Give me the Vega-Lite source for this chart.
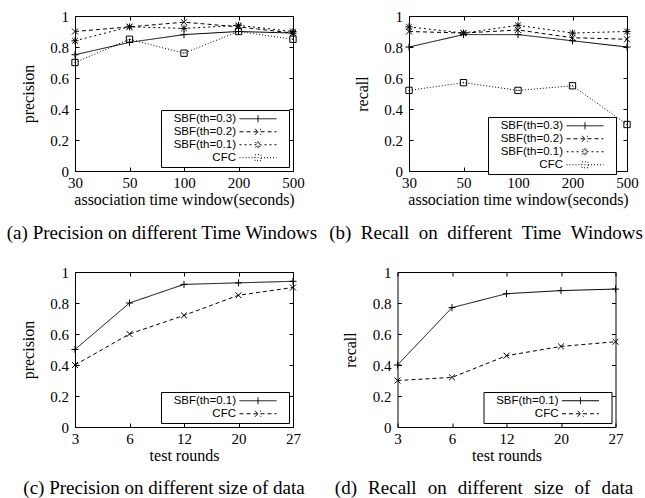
{
  "$schema": "https://vega.github.io/schema/vega-lite/v6.json",
  "padding": {"left": 3, "top": 8, "right": 0, "bottom": 0},
  "background": "white",
  "config": {
    "font": "Liberation Serif",
    "view": {"stroke": "black", "strokeWidth": 1},
    "axis": {"grid": false, "domain": false, "tickSize": -4, "tickColor": "black", "tickWidth": 1, "labelFont": "Liberation Serif", "labelFontSize": 15, "labelColor": "black", "titleFont": "Liberation Serif", "titleFontSize": 16, "titleFontWeight": "normal", "titleColor": "black", "labelAngle": 0},
    "axisY": {"labelPadding": 10.5, "titleX": -47, "titleBaseline": "middle"},
    "axisX": {"labelPadding": 8, "titlePadding": 1},
    "title": {"font": "Liberation Serif", "fontSize": 19, "fontWeight": "normal", "color": "black"},
    "legend": {"orient": "bottom-right", "offset": 4, "padding": 3, "strokeColor": "black", "fillColor": "white", "labelFont": "Liberation Sans", "labelFontSize": 11.5, "labelColor": "black", "rowPadding": 0, "symbolSize": 100, "symbolStrokeColor": "black", "symbolStrokeWidth": 1, "cornerRadius": 0}
  },
  "datasets": {
    "a": [
      {"x": 30, "series": "SBF(th=0.3)", "v": 0.75}, {"x": 50, "series": "SBF(th=0.3)", "v": 0.83}, {"x": 100, "series": "SBF(th=0.3)", "v": 0.88}, {"x": 200, "series": "SBF(th=0.3)", "v": 0.90}, {"x": 500, "series": "SBF(th=0.3)", "v": 0.89},
      {"x": 30, "series": "SBF(th=0.2)", "v": 0.90}, {"x": 50, "series": "SBF(th=0.2)", "v": 0.93}, {"x": 100, "series": "SBF(th=0.2)", "v": 0.96}, {"x": 200, "series": "SBF(th=0.2)", "v": 0.93}, {"x": 500, "series": "SBF(th=0.2)", "v": 0.89},
      {"x": 30, "series": "SBF(th=0.1)", "v": 0.84}, {"x": 50, "series": "SBF(th=0.1)", "v": 0.93}, {"x": 100, "series": "SBF(th=0.1)", "v": 0.92}, {"x": 200, "series": "SBF(th=0.1)", "v": 0.94}, {"x": 500, "series": "SBF(th=0.1)", "v": 0.90},
      {"x": 30, "series": "CFC", "v": 0.70}, {"x": 50, "series": "CFC", "v": 0.85}, {"x": 100, "series": "CFC", "v": 0.76}, {"x": 200, "series": "CFC", "v": 0.90}, {"x": 500, "series": "CFC", "v": 0.85}
    ],
    "b": [
      {"x": 30, "series": "SBF(th=0.3)", "v": 0.80}, {"x": 50, "series": "SBF(th=0.3)", "v": 0.88}, {"x": 100, "series": "SBF(th=0.3)", "v": 0.88}, {"x": 200, "series": "SBF(th=0.3)", "v": 0.84}, {"x": 500, "series": "SBF(th=0.3)", "v": 0.80},
      {"x": 30, "series": "SBF(th=0.2)", "v": 0.90}, {"x": 50, "series": "SBF(th=0.2)", "v": 0.89}, {"x": 100, "series": "SBF(th=0.2)", "v": 0.91}, {"x": 200, "series": "SBF(th=0.2)", "v": 0.86}, {"x": 500, "series": "SBF(th=0.2)", "v": 0.85},
      {"x": 30, "series": "SBF(th=0.1)", "v": 0.93}, {"x": 50, "series": "SBF(th=0.1)", "v": 0.89}, {"x": 100, "series": "SBF(th=0.1)", "v": 0.94}, {"x": 200, "series": "SBF(th=0.1)", "v": 0.89}, {"x": 500, "series": "SBF(th=0.1)", "v": 0.90},
      {"x": 30, "series": "CFC", "v": 0.52}, {"x": 50, "series": "CFC", "v": 0.57}, {"x": 100, "series": "CFC", "v": 0.52}, {"x": 200, "series": "CFC", "v": 0.55}, {"x": 500, "series": "CFC", "v": 0.30}
    ],
    "c": [
      {"x": 3, "series": "SBF(th=0.1)", "v": 0.50}, {"x": 6, "series": "SBF(th=0.1)", "v": 0.80}, {"x": 12, "series": "SBF(th=0.1)", "v": 0.92}, {"x": 20, "series": "SBF(th=0.1)", "v": 0.93}, {"x": 27, "series": "SBF(th=0.1)", "v": 0.94},
      {"x": 3, "series": "CFC", "v": 0.40}, {"x": 6, "series": "CFC", "v": 0.60}, {"x": 12, "series": "CFC", "v": 0.72}, {"x": 20, "series": "CFC", "v": 0.85}, {"x": 27, "series": "CFC", "v": 0.90}
    ],
    "d": [
      {"x": 3, "series": "SBF(th=0.1)", "v": 0.40}, {"x": 6, "series": "SBF(th=0.1)", "v": 0.77}, {"x": 12, "series": "SBF(th=0.1)", "v": 0.86}, {"x": 20, "series": "SBF(th=0.1)", "v": 0.88}, {"x": 27, "series": "SBF(th=0.1)", "v": 0.89},
      {"x": 3, "series": "CFC", "v": 0.30}, {"x": 6, "series": "CFC", "v": 0.32}, {"x": 12, "series": "CFC", "v": 0.46}, {"x": 20, "series": "CFC", "v": 0.52}, {"x": 27, "series": "CFC", "v": 0.55}
    ]
  },
  "spacing": 20,
  "resolve": {"scale": {"strokeDash": "independent"}, "legend": {"strokeDash": "independent"}},
  "vconcat": [
    {
      "spacing": 116,
      "bounds": "flush",
      "resolve": {"scale": {"strokeDash": "independent"}, "legend": {"strokeDash": "independent"}},
      "hconcat": [
        {
          "width": 218, "height": 155,
          "data": {"name": "a"},
          "title": {"text": "(a)  Precision on different Time Windows", "orient": "bottom", "anchor": "middle", "dx": -22, "offset": 17},
          "resolve": {"axis": {"x": "independent", "y": "independent"}},
          "layer": [
            {
              "mark": {"type": "line", "color": "black", "strokeWidth": 1},
              "encoding": {
                "x": {"field": "x", "type": "ordinal", "sort": [30, 50, 100, 200, 500], "scale": {"type": "point", "padding": 0}, "title": "association time window(seconds)"},
                "y": {"field": "v", "type": "quantitative", "scale": {"domain": [0, 1]}, "title": "precision", "axis": {"values": [0, 0.2, 0.4, 0.6, 0.8, 1], "format": "~g"}},
                "strokeDash": {"field": "series", "type": "nominal", "scale": {"domain": ["SBF(th=0.3)", "SBF(th=0.2)", "SBF(th=0.1)", "CFC"], "range": [[1, 0], [4, 3], [2, 3], [1, 2]]},
                  "legend": {"title": null, "orient": "bottom-right", "encode": {
                    "symbols": {"update": {"x": {"value": 94}, "fill": {"value": "transparent"}, "stroke": {"value": "black"}, "strokeWidth": {"value": 1},
                      "shape": {"signal": "datum.value == 'SBF(th=0.3)' ? 'M-18.8,0M-3.7,0H3.7M0,-0.7V0.7M5.2,0' : datum.value == 'SBF(th=0.2)' ? 'M-18.8,0M-3.7,0H3.7M-0.6,-0.6L0.6,0.6M-0.6,0.6L0.6,-0.6M5.2,0' : datum.value == 'SBF(th=0.1)' ? 'M-18.8,0M-3.7,0H3.7M0,-0.7V0.7M-0.55,-0.55L0.55,0.55M-0.55,0.55L0.55,-0.55M5.2,0' : 'M-18.8,0M-3.7,0H-0.6M0.6,0H3.7M-0.6,-0.6H0.6V0.6H-0.6ZM-0.1,0H0.1M5.2,0'"}}},
                    "labels": {"update": {"x": {"value": 72}, "align": {"value": "right"}}}
                  }}}
              }
            },
            {
              "transform": [{"filter": "datum.series == 'SBF(th=0.3)'"}],
              "mark": {"type": "point", "shape": "M-1,0H1M0,-1V1", "filled": false, "color": "black", "strokeWidth": 1, "size": 49, "opacity": 1},
              "encoding": {
                "x": {"field": "x", "type": "ordinal", "sort": [30, 50, 100, 200, 500], "scale": {"type": "point", "padding": 0}, "axis": {"orient": "top", "labels": false, "title": null}},
                "y": {"field": "v", "type": "quantitative", "scale": {"domain": [0, 1]}, "axis": {"orient": "right", "labels": false, "title": null, "values": [0, 0.2, 0.4, 0.6, 0.8, 1]}}
              }
            },
            {
              "transform": [{"filter": "datum.series == 'SBF(th=0.2)'"}],
              "mark": {"type": "point", "shape": "M-0.85,-0.85L0.85,0.85M-0.85,0.85L0.85,-0.85", "filled": false, "color": "black", "strokeWidth": 1, "size": 49, "opacity": 1},
              "encoding": {
                "x": {"field": "x", "type": "ordinal", "sort": [30, 50, 100, 200, 500], "scale": {"type": "point", "padding": 0}, "axis": null},
                "y": {"field": "v", "type": "quantitative", "scale": {"domain": [0, 1]}, "axis": null}
              }
            },
            {
              "transform": [{"filter": "datum.series == 'SBF(th=0.1)'"}],
              "mark": {"type": "point", "shape": "M-1,0H1M0,-1V1M-0.8,-0.8L0.8,0.8M-0.8,0.8L0.8,-0.8", "filled": false, "color": "black", "strokeWidth": 1, "size": 49, "opacity": 1},
              "encoding": {
                "x": {"field": "x", "type": "ordinal", "sort": [30, 50, 100, 200, 500], "scale": {"type": "point", "padding": 0}, "axis": null},
                "y": {"field": "v", "type": "quantitative", "scale": {"domain": [0, 1]}, "axis": null}
              }
            },
            {
              "transform": [{"filter": "datum.series == 'CFC'"}],
              "mark": {"type": "point", "shape": "M-0.9,-0.9H0.9V0.9H-0.9ZM-0.15,0H0.15", "filled": false, "color": "black", "strokeWidth": 1, "size": 49, "opacity": 1},
              "encoding": {
                "x": {"field": "x", "type": "ordinal", "sort": [30, 50, 100, 200, 500], "scale": {"type": "point", "padding": 0}, "axis": null},
                "y": {"field": "v", "type": "quantitative", "scale": {"domain": [0, 1]}, "axis": null}
              }
            }
          ]
        },
        {
          "width": 218, "height": 155,
          "data": {"name": "b"},
          "title": {"text": "(b)\u2002Recall\u2002on\u2002different\u2002Time\u2002Windows", "orient": "bottom", "anchor": "middle", "dx": -32, "offset": 17},
          "resolve": {"axis": {"x": "independent", "y": "independent"}},
          "layer": [
            {
              "mark": {"type": "line", "color": "black", "strokeWidth": 1},
              "encoding": {
                "x": {"field": "x", "type": "ordinal", "sort": [30, 50, 100, 200, 500], "scale": {"type": "point", "padding": 0}, "title": "association time window(seconds)"},
                "y": {"field": "v", "type": "quantitative", "scale": {"domain": [0, 1]}, "title": "recall", "axis": {"values": [0, 0.2, 0.4, 0.6, 0.8, 1], "format": "~g"}},
                "strokeDash": {"field": "series", "type": "nominal", "scale": {"domain": ["SBF(th=0.3)", "SBF(th=0.2)", "SBF(th=0.1)", "CFC"], "range": [[1, 0], [4, 3], [2, 3], [1, 2]]},
                  "legend": {"title": null, "orient": "none", "legendX": 79, "legendY": 101, "encode": {
                    "symbols": {"update": {"x": {"value": 94}, "fill": {"value": "transparent"}, "stroke": {"value": "black"}, "strokeWidth": {"value": 1},
                      "shape": {"signal": "datum.value == 'SBF(th=0.3)' ? 'M-18.8,0M-3.7,0H3.7M0,-0.7V0.7M5.2,0' : datum.value == 'SBF(th=0.2)' ? 'M-18.8,0M-3.7,0H3.7M-0.6,-0.6L0.6,0.6M-0.6,0.6L0.6,-0.6M5.2,0' : datum.value == 'SBF(th=0.1)' ? 'M-18.8,0M-3.7,0H3.7M0,-0.7V0.7M-0.55,-0.55L0.55,0.55M-0.55,0.55L0.55,-0.55M5.2,0' : 'M-18.8,0M-3.7,0H-0.6M0.6,0H3.7M-0.6,-0.6H0.6V0.6H-0.6ZM-0.1,0H0.1M5.2,0'"}}},
                    "labels": {"update": {"x": {"value": 72}, "align": {"value": "right"}}}
                  }}}
              }
            },
            {
              "transform": [{"filter": "datum.series == 'SBF(th=0.3)'"}],
              "mark": {"type": "point", "shape": "M-1,0H1M0,-1V1", "filled": false, "color": "black", "strokeWidth": 1, "size": 49, "opacity": 1},
              "encoding": {
                "x": {"field": "x", "type": "ordinal", "sort": [30, 50, 100, 200, 500], "scale": {"type": "point", "padding": 0}, "axis": {"orient": "top", "labels": false, "title": null}},
                "y": {"field": "v", "type": "quantitative", "scale": {"domain": [0, 1]}, "axis": {"orient": "right", "labels": false, "title": null, "values": [0, 0.2, 0.4, 0.6, 0.8, 1]}}
              }
            },
            {
              "transform": [{"filter": "datum.series == 'SBF(th=0.2)'"}],
              "mark": {"type": "point", "shape": "M-0.85,-0.85L0.85,0.85M-0.85,0.85L0.85,-0.85", "filled": false, "color": "black", "strokeWidth": 1, "size": 49, "opacity": 1},
              "encoding": {
                "x": {"field": "x", "type": "ordinal", "sort": [30, 50, 100, 200, 500], "scale": {"type": "point", "padding": 0}, "axis": null},
                "y": {"field": "v", "type": "quantitative", "scale": {"domain": [0, 1]}, "axis": null}
              }
            },
            {
              "transform": [{"filter": "datum.series == 'SBF(th=0.1)'"}],
              "mark": {"type": "point", "shape": "M-1,0H1M0,-1V1M-0.8,-0.8L0.8,0.8M-0.8,0.8L0.8,-0.8", "filled": false, "color": "black", "strokeWidth": 1, "size": 49, "opacity": 1},
              "encoding": {
                "x": {"field": "x", "type": "ordinal", "sort": [30, 50, 100, 200, 500], "scale": {"type": "point", "padding": 0}, "axis": null},
                "y": {"field": "v", "type": "quantitative", "scale": {"domain": [0, 1]}, "axis": null}
              }
            },
            {
              "transform": [{"filter": "datum.series == 'CFC'"}],
              "mark": {"type": "point", "shape": "M-0.9,-0.9H0.9V0.9H-0.9ZM-0.15,0H0.15", "filled": false, "color": "black", "strokeWidth": 1, "size": 49, "opacity": 1},
              "encoding": {
                "x": {"field": "x", "type": "ordinal", "sort": [30, 50, 100, 200, 500], "scale": {"type": "point", "padding": 0}, "axis": null},
                "y": {"field": "v", "type": "quantitative", "scale": {"domain": [0, 1]}, "axis": null}
              }
            }
          ]
        }
      ]
    },
    {
      "spacing": 104.5,
      "bounds": "flush",
      "resolve": {"scale": {"strokeDash": "independent"}, "legend": {"strokeDash": "independent"}},
      "hconcat": [
        {
          "width": 218, "height": 155,
          "data": {"name": "c"},
          "title": {"text": "(c)  Precision on different size of data", "orient": "bottom", "anchor": "middle", "dx": -20, "offset": 16},
          "resolve": {"axis": {"x": "independent", "y": "independent"}},
          "layer": [
            {
              "mark": {"type": "line", "color": "black", "strokeWidth": 1},
              "encoding": {
                "x": {"field": "x", "type": "ordinal", "sort": [3, 6, 12, 20, 27], "scale": {"type": "point", "padding": 0}, "title": "test rounds"},
                "y": {"field": "v", "type": "quantitative", "scale": {"domain": [0, 1]}, "title": "precision", "axis": {"values": [0, 0.2, 0.4, 0.6, 0.8, 1], "format": "~g"}},
                "strokeDash": {"field": "series", "type": "nominal", "scale": {"domain": ["SBF(th=0.1)", "CFC"], "range": [[1, 0], [4, 3]]},
                  "legend": {"title": null, "orient": "bottom-right", "encode": {
                    "symbols": {"update": {"x": {"value": 94}, "fill": {"value": "transparent"}, "stroke": {"value": "black"}, "strokeWidth": {"value": 1},
                      "shape": {"signal": "datum.value == 'SBF(th=0.1)' ? 'M-18.8,0M-3.7,0H3.7M0,-0.7V0.7M5.2,0' : 'M-18.8,0M-3.7,0H3.7M-0.6,-0.6L0.6,0.6M-0.6,0.6L0.6,-0.6M5.2,0'"}}},
                    "labels": {"update": {"x": {"value": 72}, "align": {"value": "right"}}}
                  }}}
              }
            },
            {
              "transform": [{"filter": "datum.series == 'SBF(th=0.1)'"}],
              "mark": {"type": "point", "shape": "M-1,0H1M0,-1V1", "filled": false, "color": "black", "strokeWidth": 1, "size": 49, "opacity": 1},
              "encoding": {
                "x": {"field": "x", "type": "ordinal", "sort": [3, 6, 12, 20, 27], "scale": {"type": "point", "padding": 0}, "axis": {"orient": "top", "labels": false, "title": null}},
                "y": {"field": "v", "type": "quantitative", "scale": {"domain": [0, 1]}, "axis": {"orient": "right", "labels": false, "title": null, "values": [0, 0.2, 0.4, 0.6, 0.8, 1]}}
              }
            },
            {
              "transform": [{"filter": "datum.series == 'CFC'"}],
              "mark": {"type": "point", "shape": "M-0.85,-0.85L0.85,0.85M-0.85,0.85L0.85,-0.85", "filled": false, "color": "black", "strokeWidth": 1, "size": 49, "opacity": 1},
              "encoding": {
                "x": {"field": "x", "type": "ordinal", "sort": [3, 6, 12, 20, 27], "scale": {"type": "point", "padding": 0}, "axis": null},
                "y": {"field": "v", "type": "quantitative", "scale": {"domain": [0, 1]}, "axis": null}
              }
            }
          ]
        },
        {
          "width": 218, "height": 155,
          "data": {"name": "d"},
          "title": {"text": "(d)\u2002\u200aRecall\u2002\u200aon\u2002\u200adifferent\u2002\u200asize\u2002\u200aof\u2002\u200adata", "orient": "bottom", "anchor": "middle", "dx": -22.5, "offset": 16},
          "resolve": {"axis": {"x": "independent", "y": "independent"}},
          "layer": [
            {
              "mark": {"type": "line", "color": "black", "strokeWidth": 1},
              "encoding": {
                "x": {"field": "x", "type": "ordinal", "sort": [3, 6, 12, 20, 27], "scale": {"type": "point", "padding": 0}, "title": "test rounds"},
                "y": {"field": "v", "type": "quantitative", "scale": {"domain": [0, 1]}, "title": "recall", "axis": {"values": [0, 0.2, 0.4, 0.6, 0.8, 1], "format": "~g"}},
                "strokeDash": {"field": "series", "type": "nominal", "scale": {"domain": ["SBF(th=0.1)", "CFC"], "range": [[1, 0], [4, 3]]},
                  "legend": {"title": null, "orient": "bottom-right", "encode": {
                    "symbols": {"update": {"x": {"value": 94}, "fill": {"value": "transparent"}, "stroke": {"value": "black"}, "strokeWidth": {"value": 1},
                      "shape": {"signal": "datum.value == 'SBF(th=0.1)' ? 'M-18.8,0M-3.7,0H3.7M0,-0.7V0.7M5.2,0' : 'M-18.8,0M-3.7,0H3.7M-0.6,-0.6L0.6,0.6M-0.6,0.6L0.6,-0.6M5.2,0'"}}},
                    "labels": {"update": {"x": {"value": 72}, "align": {"value": "right"}}}
                  }}}
              }
            },
            {
              "transform": [{"filter": "datum.series == 'SBF(th=0.1)'"}],
              "mark": {"type": "point", "shape": "M-1,0H1M0,-1V1", "filled": false, "color": "black", "strokeWidth": 1, "size": 49, "opacity": 1},
              "encoding": {
                "x": {"field": "x", "type": "ordinal", "sort": [3, 6, 12, 20, 27], "scale": {"type": "point", "padding": 0}, "axis": {"orient": "top", "labels": false, "title": null}},
                "y": {"field": "v", "type": "quantitative", "scale": {"domain": [0, 1]}, "axis": {"orient": "right", "labels": false, "title": null, "values": [0, 0.2, 0.4, 0.6, 0.8, 1]}}
              }
            },
            {
              "transform": [{"filter": "datum.series == 'CFC'"}],
              "mark": {"type": "point", "shape": "M-0.85,-0.85L0.85,0.85M-0.85,0.85L0.85,-0.85", "filled": false, "color": "black", "strokeWidth": 1, "size": 49, "opacity": 1},
              "encoding": {
                "x": {"field": "x", "type": "ordinal", "sort": [3, 6, 12, 20, 27], "scale": {"type": "point", "padding": 0}, "axis": null},
                "y": {"field": "v", "type": "quantitative", "scale": {"domain": [0, 1]}, "axis": null}
              }
            }
          ]
        }
      ]
    }
  ]
}
